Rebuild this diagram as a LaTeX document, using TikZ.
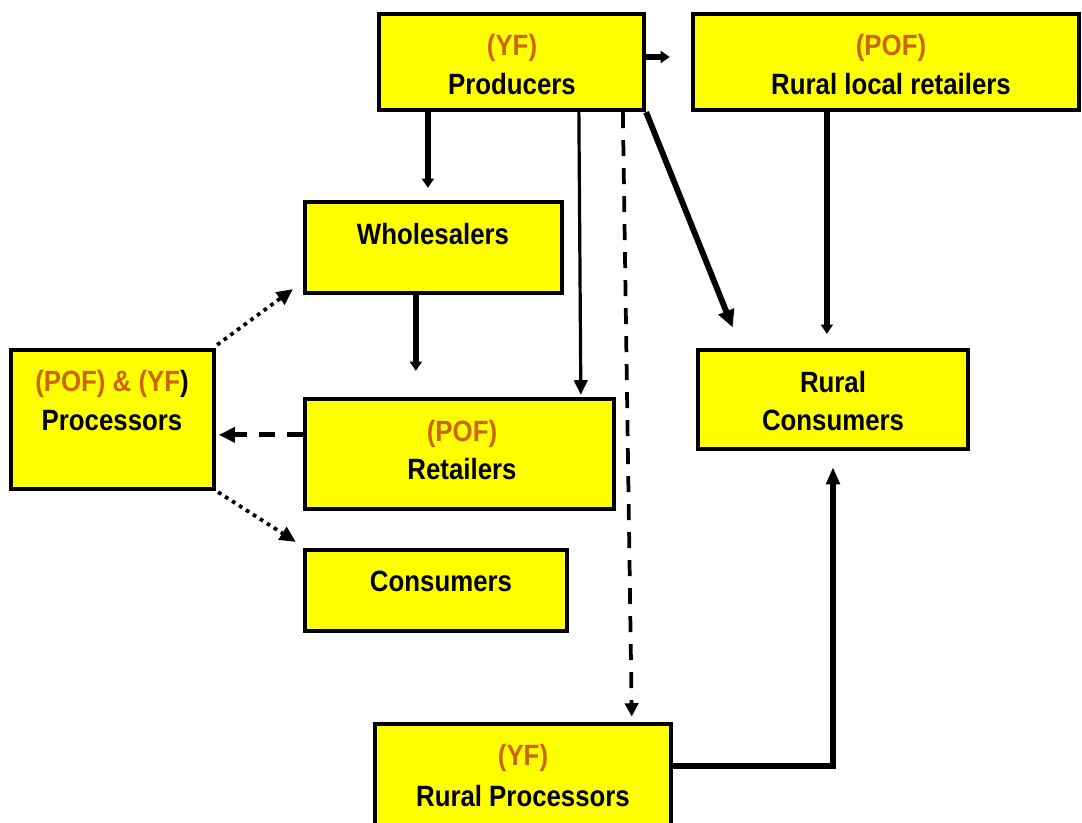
\documentclass[tikz,border=0pt]{standalone}
\usepackage{fontspec}
\setmainfont{Liberation Sans}[FakeStretch=0.88]
\usetikzlibrary{arrows.meta,calc}
\definecolor{tagorange}{RGB}{204,102,0}
\definecolor{boxyellow}{RGB}{255,255,0}
\begin{document}
\begin{tikzpicture}[x=0.75pt,y=-0.75pt,
  box/.style={draw=black,fill=boxyellow,line width=3.2pt,inner sep=0pt},
  lbl/.style={anchor=base,inner sep=0pt,font=\fontsize{22pt}{26pt}\selectfont\bfseries},
  tag/.style={lbl,text=tagorange},
  flow/.style={line width=4.4pt},
  thinflow/.style={line width=2.4pt},
  dashflow/.style={line width=2.8pt,dash pattern=on 12pt off 9pt},
  dashflowb/.style={line width=3.8pt,dash pattern=on 12pt off 9pt},
  dotflow/.style={line width=2.8pt,dash pattern=on 2.8pt off 3.4pt},
]
\useasboundingbox (0,0) rectangle (1082,822);
\clip (0,0) rectangle (1082,822);

% boxes
\node[box,minimum width=198.75pt,minimum height=72pt] (prod) at (511.5,62) {};
\node[box,minimum width=289.5pt,minimum height=72pt] (rlr) at (886,62) {};
\node[box,minimum width=192.75pt,minimum height=68.25pt] (whole) at (433.5,247.5) {};
\node[box,minimum width=152.25pt,minimum height=104.25pt] (proc) at (112.5,419.5) {};
\node[box,minimum width=231.75pt,minimum height=82.5pt] (ret) at (459.5,454) {};
\node[box,minimum width=196.5pt,minimum height=60.75pt] (cons) at (436,590.5) {};
\node[box,minimum width=202.5pt,minimum height=74.25pt] (rcons) at (833,399.5) {};
\node[box,minimum width=222pt,minimum height=102pt] (rproc) at (523,792) {};

% labels
\node[tag] (prodTag) at (512,55) {(YF)};
\node[lbl] (prodName) at (512,94) {Producers};
\node[tag] (rlrTag) at (891,55) {(POF)};
\node[lbl] (rlrName) at (891,94) {Rural local retailers};
\node[lbl] (wholeName) at (433,244) {Wholesalers};
\node[lbl] (procTag) at (112,391) {\textcolor{tagorange}{(POF) \& (YF}\textcolor{black}{)}};
\node[lbl] (procName) at (112,430) {Processors};
\node[tag] (retTag) at (462,441) {(POF)};
\node[lbl] (retName) at (462,479) {Retailers};
\node[lbl] (consName) at (441,591) {Consumers};
\node[lbl] (rconsTag) at (833,392) {Rural};
\node[lbl] (rconsName) at (833,430) {Consumers};
\node[tag] (rprocTag) at (523,765) {(YF)};
\node[lbl] (rprocName) at (523,806) {Rural Processors};

% connector end points
\coordinate (rpOut) at ($(rproc.north east)+(0,44)$);
\coordinate (rpBend) at (rpOut -| rcons.south);

% connectors
\draw[flow,-{Triangle[width=9pt,length=7pt]},shorten >=15.75pt]
  ([yshift=3.75pt]prod.east) -- ([yshift=3.75pt]rlr.west);
\draw[flow,-{Triangle[width=9pt,length=7pt]},shorten >=9pt]
  ($(prod.south west)+(51,0)$) -- ($(whole.north west)+(125,0)$);
\draw[thinflow,-{Triangle[width=10pt,length=11pt]},shorten >=1.5pt]
  ($(prod.south west)+(202,0)$) -- ($(ret.north west)+(278,0)$);
\draw[dashflow,-{Triangle[width=10pt,length=10pt]},shorten >=4pt]
  ($(prod.south west)+(246,0)$) -- ($(rproc.north west)+(259,0)$);
\draw[flow,-{Triangle[width=12pt,length=13pt]},shorten >=16.5pt]
  (prod.south east) -- ($(rcons.north west)+(45,0)$);
\draw[flow,-{Triangle[width=9pt,length=7pt]},shorten >=10.5pt]
  ($(rlr.south west)+(136,0)$) -- ($(rcons.north west)+(131,0)$);
\draw[flow,-{Triangle[width=9pt,length=7pt]},shorten >=19.5pt]
  ($(whole.south west)+(113,0)$) -- ($(ret.north west)+(113,0)$);
\draw[dashflowb,-{Triangle[width=11pt,length=12pt]},shorten >=2pt]
  ($(ret.north west)+(0,38)$) -- ($(proc.north east)+(0,87)$);
\draw[dotflow,-{Triangle[width=11pt,length=12pt]}]
  ($(proc.north east)+(1,-3)$) -- ($(whole.south west)+(-10,-6)$);
\draw[dotflow,-{Triangle[width=11pt,length=12pt]}]
  ($(proc.south east)+(2,1)$) -- ($(cons.north west)+(-7,-6)$);
\draw[flow,-{Triangle[width=10pt,length=13pt]},shorten >=12pt]
  (rpOut) -- (rpBend) -- (rcons.south);
\end{tikzpicture}
\end{document}
